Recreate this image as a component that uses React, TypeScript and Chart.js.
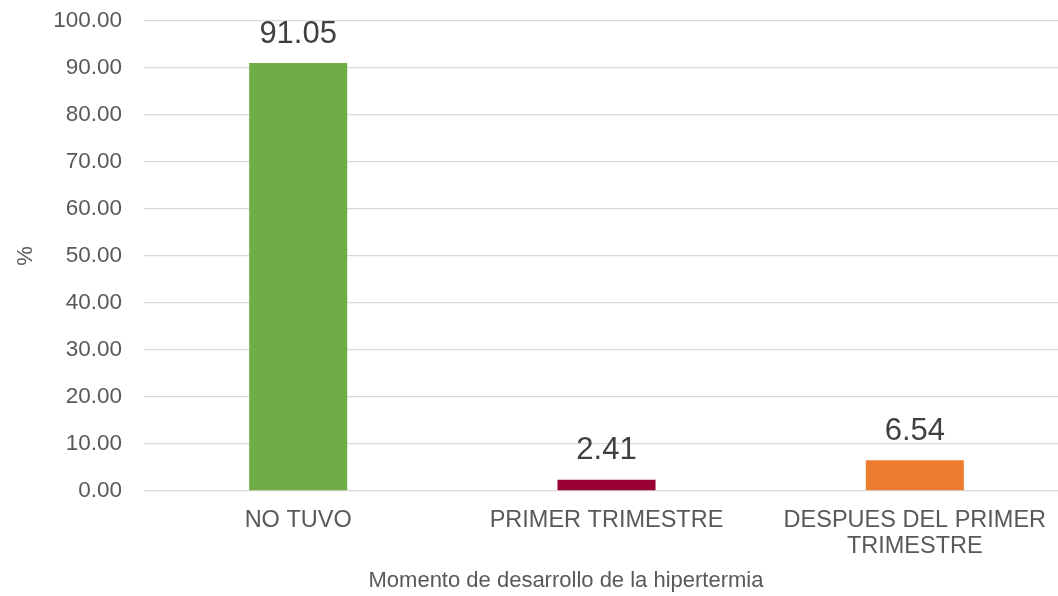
import React, { useEffect, useRef } from "react";
import { Chart, registerables } from "chart.js";

Chart.register(...registerables);

const categories: (string | string[])[] = [
  "NO TUVO",
  "PRIMER TRIMESTRE",
  ["DESPUES DEL PRIMER", "TRIMESTRE"],
];
const values: number[] = [91.05, 2.41, 6.54];
const barColors: string[] = ["#70AD47", "#990033", "#ED7D31"];
const xTitle = "Momento de desarrollo de la hipertermia";
const yTitle = "%";

const FONT = "'Liberation Sans', Arial, sans-serif";

const valueLabels = {
  id: "valueLabels",
  afterDatasetsDraw(chart: any) {
    const ctx = chart.ctx;
    const meta = chart.getDatasetMeta(0);
    ctx.save();
    ctx.font = `31px ${FONT}`;
    ctx.fillStyle = "#404040";
    ctx.textAlign = "center";
    ctx.textBaseline = "middle";
    meta.data.forEach((bar: any, i: number) => {
      ctx.fillText(values[i].toFixed(2), bar.x, bar.y - 29);
    });
    ctx.restore();
  },
};

const xTitlePlugin = {
  id: "xTitlePlugin",
  afterDraw(chart: any) {
    const ctx = chart.ctx;
    ctx.save();
    ctx.font = `22px ${FONT}`;
    ctx.fillStyle = "#595959";
    ctx.textAlign = "center";
    ctx.textBaseline = "middle";
    ctx.fillText(xTitle, 566, 581);
    ctx.restore();
  },
};

export default function App() {
  const ref = useRef<HTMLCanvasElement>(null);
  useEffect(() => {
    if (!ref.current) return;
    const chart = new Chart(ref.current, {
      type: "bar",
      data: {
        labels: categories as any,
        datasets: [
          {
            data: values,
            backgroundColor: barColors,
            borderWidth: 0,
            categoryPercentage: 1,
            barPercentage: 0.318,
          },
        ],
      },
      options: {
        animation: false,
        responsive: true,
        maintainAspectRatio: false,
        layout: { padding: { top: 21, right: 3, left: 0, bottom: 0 } },
        plugins: {
          legend: { display: false },
          tooltip: { enabled: false },
        },
        scales: {
          x: {
            grid: { display: false, drawTicks: false },
            border: { display: false },
            ticks: {
              color: "#595959",
              font: { family: FONT, size: 23.5, lineHeight: 1.1 },
              padding: 17,
              maxRotation: 0,
              autoSkip: false,
            },
            afterFit: (s: any) => {
              s.height = 105;
            },
          },
          y: {
            min: 0,
            max: 100,
            grid: { color: "#D9D9D9", lineWidth: 1.3, drawTicks: false },
            border: { display: false },
            ticks: {
              stepSize: 10,
              color: "#595959",
              font: { family: FONT, size: 22.5 },
              padding: 22,
              callback: (v: any) => Number(v).toFixed(2),
            },
            title: {
              display: true,
              text: yTitle,
              color: "#595959",
              font: { family: FONT, size: 22, lineHeight: 1.2 },
              padding: { top: 13, bottom: 0 },
            },
            afterFit: (s: any) => {
              s.width = 144;
              s.paddingTop = 0;
              s.paddingBottom = 0;
            },
          },
        },
      },
      plugins: [valueLabels, xTitlePlugin],
    });
    return () => chart.destroy();
  }, []);

  return (
    <div
      style={{
        position: "fixed",
        left: 0,
        top: 0,
        width: 1058,
        height: 596,
        overflow: "hidden",
        background: "#fff",
      }}
    >
      <div style={{ position: "relative", width: 1072, height: 596 }}>
        <canvas ref={ref} />
      </div>
    </div>
  );
}
